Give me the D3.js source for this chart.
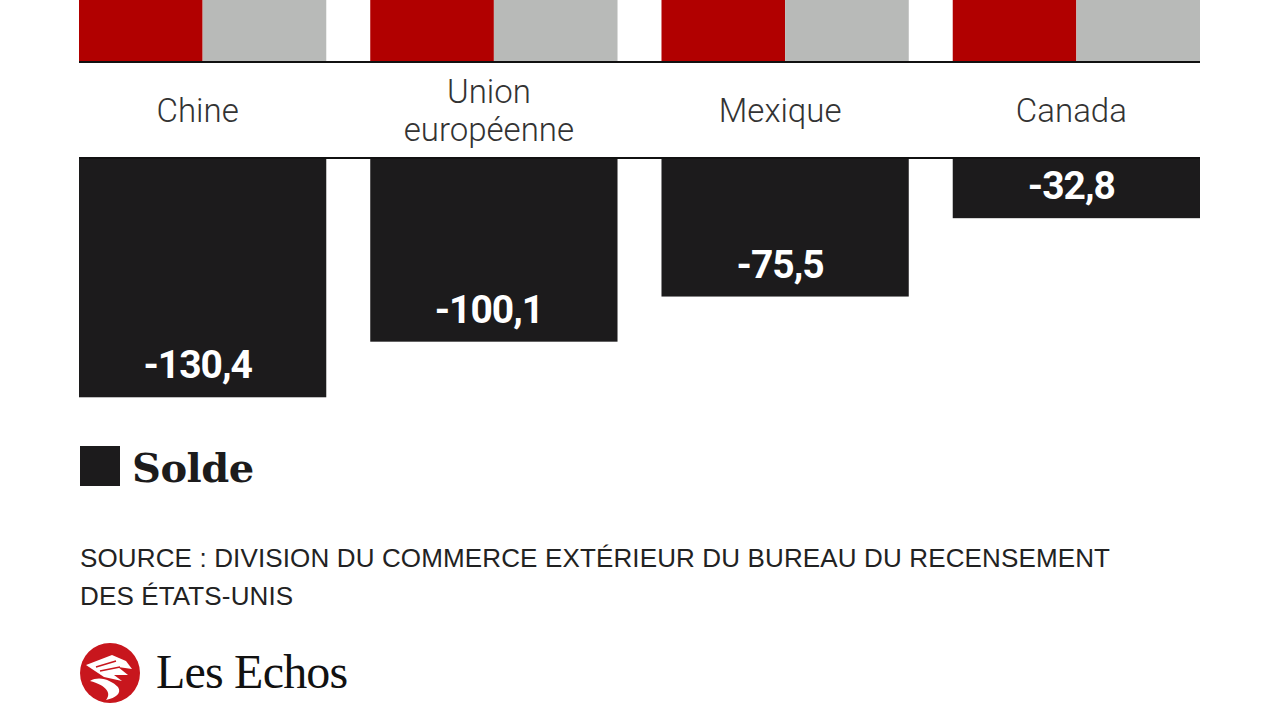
<!DOCTYPE html>
<html><head><meta charset="utf-8">
<script src="https://cdn.jsdelivr.net/npm/d3@7"></script>
<style>html,body{margin:0;padding:0;background:#fff;overflow:hidden}</style>
</head><body>
<svg id="c" width="1280" height="720"></svg>
<script>
// Data (milliards de dollars)
const categories = ["Chine", "Union européenne", "Mexique", "Canada"];
const exportations = [45.0, 120.0, 110.0, 115.0];   // red (clipped above frame, estimated)
const importations = [175.4, 220.1, 185.5, 147.8];  // gray (clipped above frame, estimated)
const solde = [-130.4, -100.1, -75.5, -32.8];
const labelLines = [["Chine"], ["Union", "européenne"], ["Mexique"], ["Canada"]];
const legendLabel = "Solde";
const sourceLines = ["SOURCE : DIVISION DU COMMERCE EXTÉRIEUR DU BUREAU DU RECENSEMENT", "DES ÉTATS-UNIS"];

const svg = d3.select("#c");
const pxPerUnit = 1.835;
const topBase = 62, botBase = 158;

const x = d3.scaleBand().domain(categories).range([79, 1200]).paddingInner(0.151).paddingOuter(0);
const sub = d3.scaleBand().domain(["exp", "imp"]).range([0, x.bandwidth()]).padding(0);
const yTop = d3.scaleLinear().domain([0, 250]).range([topBase, topBase - 250 * pxPerUnit]);
const yBot = d3.scaleLinear().domain([0, -140]).range([botBase, botBase + 140 * pxPerUnit]);

const fmt = v => d3.format(".1f")(v).replace(".", ",").replace("−", "-");

// top bars
const gTop = svg.append("g");
categories.forEach((c, i) => {
  gTop.append("rect").attr("x", x(c) + sub("exp")).attr("width", sub.bandwidth())
    .attr("y", yTop(exportations[i])).attr("height", yTop(0) - yTop(exportations[i])).attr("fill", "#b10000");
  gTop.append("rect").attr("x", x(c) + sub("imp")).attr("width", sub.bandwidth())
    .attr("y", yTop(importations[i])).attr("height", yTop(0) - yTop(importations[i])).attr("fill", "#b8bab8");
});
svg.append("line").attr("x1", 79).attr("x2", 1200).attr("y1", topBase).attr("y2", topBase)
  .attr("stroke", "#111").attr("stroke-width", 2);

// category labels
categories.forEach((c, i) => {
  const lines = labelLines[i];
  const cx = x(c) + x.bandwidth() / 2 - 5;
  const t = svg.append("text").attr("x", cx).attr("text-anchor", "middle")
    .attr("font-family", "Roboto").attr("font-weight", 300).attr("font-size", 33).attr("fill", "#333");
  if (lines.length === 1) {
    t.attr("y", 122).text(lines[0]);
  } else {
    lines.forEach((l, j) => t.append("tspan").attr("x", cx).attr("y", 103 + j * 38).text(l));
  }
});

// bottom bars
categories.forEach((c, i) => {
  svg.append("rect").attr("x", x(c)).attr("width", x.bandwidth())
    .attr("y", yBot(0)).attr("height", yBot(solde[i]) - yBot(0)).attr("fill", "#1c1b1c");
  svg.append("text").attr("x", x(c) + x.bandwidth() / 2 - 5).attr("y", yBot(solde[i]) - 19)
    .attr("text-anchor", "middle").attr("font-family", "Roboto").attr("font-weight", 700)
    .attr("font-size", 39).attr("letter-spacing", -1).attr("fill", "#fff").text(fmt(solde[i]));
});
svg.append("line").attr("x1", 79).attr("x2", 1200).attr("y1", botBase).attr("y2", botBase)
  .attr("stroke", "#111").attr("stroke-width", 2);

// legend
svg.append("rect").attr("x", 80).attr("y", 446).attr("width", 40).attr("height", 40).attr("fill", "#1c1b1c");
svg.append("text").attr("x", 132).attr("y", 482).attr("font-family", "DejaVu Serif").attr("font-weight", 700)
  .attr("font-size", 40).attr("letter-spacing", -0.5).attr("fill", "#1c1b1c").text(legendLabel);

// source
const srcTexts = sourceLines.map((l, j) =>
  svg.append("text").attr("x", 80).attr("y", 567 + j * 38).attr("font-family", "Liberation Sans")
    .attr("font-size", 26).attr("fill", "#222").text(l));
const w0 = srcTexts[0].node().getComputedTextLength();
const ls = (1030 - w0) / (sourceLines[0].length - 1);
srcTexts.forEach(t => t.attr("letter-spacing", ls));

// logo
const lg = svg.append("g").attr("transform", "translate(110,673)");
lg.append("circle").attr("r", 30).attr("fill", "#c8161d");
lg.append("path").attr("d", "M-24,-8 L2,-18 L16,-12 L22,-4 L8,-6 L18,2 L4,2 L12,8 L-6,4 Z").attr("fill", "#fff");
lg.append("path").attr("d", "M-20,8 C-10,2 2,8 8,14 C12,20 6,25 -4,27 C2,20 -4,12 -20,8 Z").attr("fill", "#fff");
lg.append("path").attr("d", "M-14,-6 L6,-12 M-10,-2 L10,-6").attr("stroke", "#c8161d").attr("stroke-width", 1.5);
svg.append("text").attr("x", 156).attr("y", 688).attr("font-family", "Liberation Serif")
  .attr("font-size", 48).attr("letter-spacing", -0.8).attr("fill", "#111").text("Les Echos");
</script>
</body></html>
